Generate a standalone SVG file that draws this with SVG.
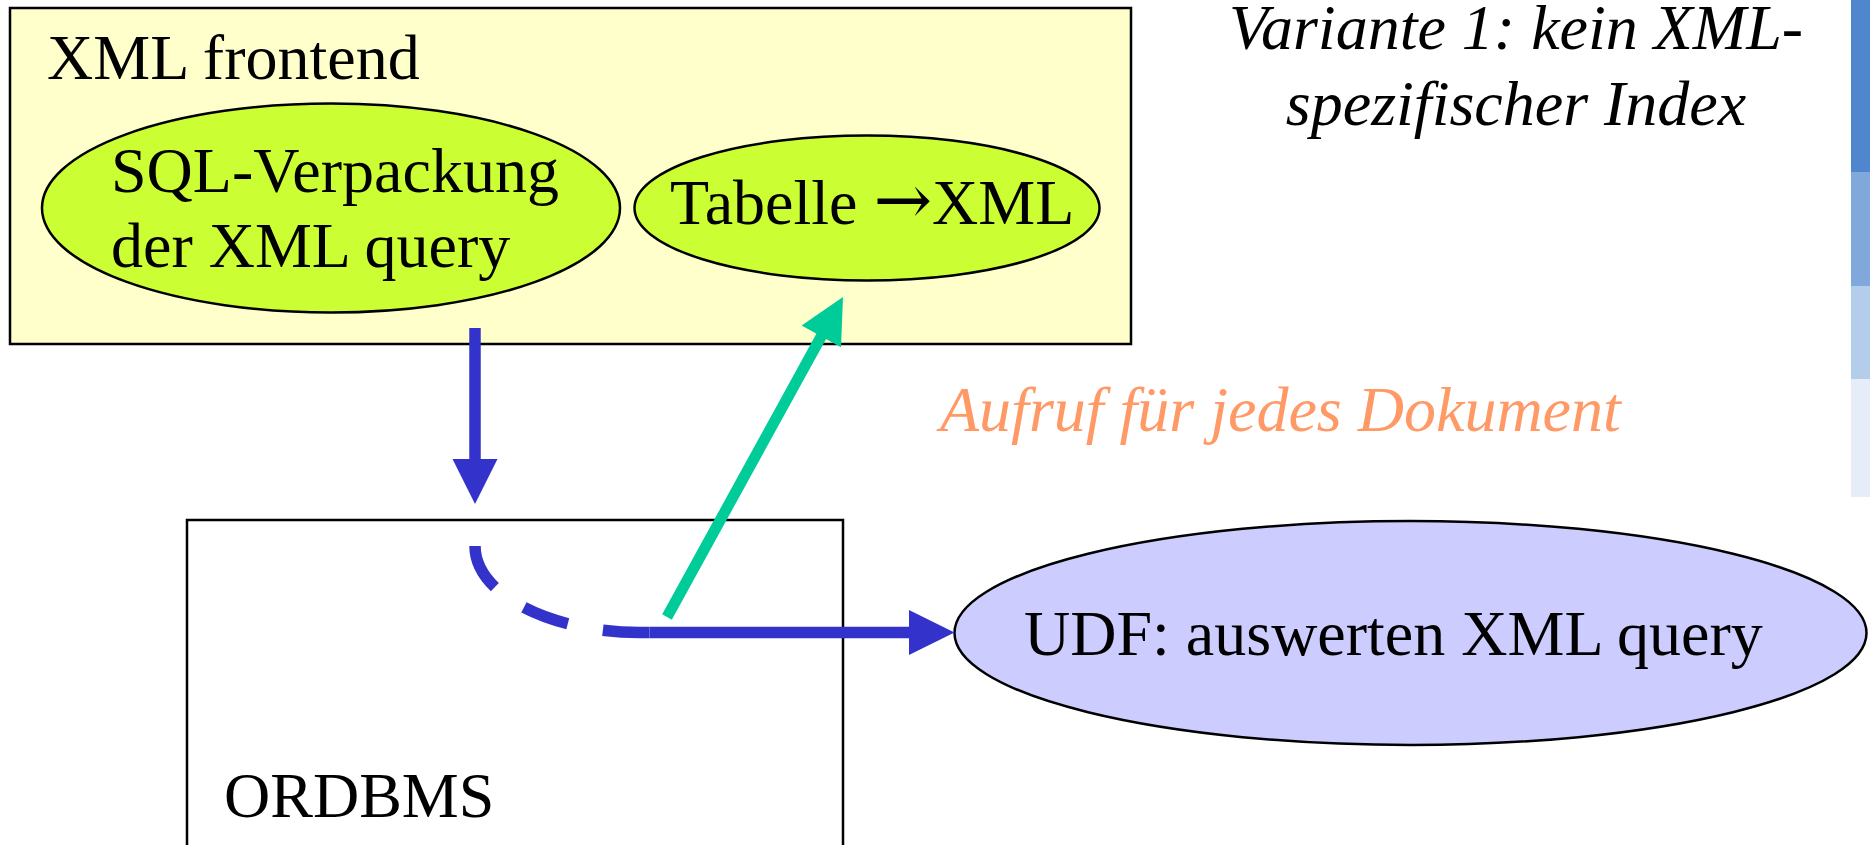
<svg xmlns="http://www.w3.org/2000/svg" width="1870" height="845" viewBox="0 0 1870 845">
  <style>
    .t { font-family: "Liberation Serif", "Times New Roman", serif; font-size: 64px; fill: #000; }
    .it { font-style: italic; }
    .arrow-glyph { font-family: "DejaVu Serif", serif; font-size: 70px; }
    .box { stroke: #000; stroke-width: 2.5; }
    .ell { stroke: #000; stroke-width: 2.5; }
    .blue { fill: none; stroke: #3333CC; stroke-width: 11.5; stroke-linecap: butt; }
    .green { fill: none; stroke: #00CC99; stroke-width: 11; stroke-linecap: butt; }
  </style>

  <!-- side colour bar -->
  <g id="sidebar">
    <rect x="1851" y="0" width="19" height="172" fill="#4F86CD"/>
    <rect x="1851" y="172" width="19" height="114" fill="#80A8DB"/>
    <rect x="1851" y="286" width="19" height="93" fill="#B3CDEA"/>
    <rect x="1851" y="379" width="19" height="118" fill="#E6EDF8"/>
  </g>

  <!-- title -->
  <g id="title">
    <text class="t it" x="1516" y="49" text-anchor="middle">Variante 1: kein XML-</text>
    <text class="t it" x="1516" y="125" text-anchor="middle">spezifischer Index</text>
  </g>

  <!-- XML frontend container -->
  <g id="xml-frontend">
    <rect class="box" x="10" y="8" width="1121" height="336" fill="#FFFFCC"/>
    <text class="t" x="47" y="79">XML frontend</text>
  </g>

  <g id="sql-verpackung">
    <ellipse class="ell" cx="331" cy="208" rx="289" ry="104.5" fill="#CCFF33"/>
    <text class="t" x="111" y="192">SQL-Verpackung</text>
    <text class="t" x="111" y="267">der XML query</text>
  </g>

  <g id="tabelle-xml">
    <ellipse class="ell" cx="867" cy="208" rx="232.5" ry="72.5" fill="#CCFF33"/>
    <text class="t" x="670" y="224">Tabelle <tspan class="arrow-glyph">→</tspan>XML</text>
  </g>

  <!-- ORDBMS box (runs past the lower edge) -->
  <g id="ordbms">
    <rect class="box" x="187" y="520" width="656" height="340" fill="#FFFFFF"/>
    <text class="t" x="224" y="817">ORDBMS</text>
  </g>

  <g id="udf">
    <ellipse class="ell" cx="1410.5" cy="633" rx="456" ry="112" fill="#CCCCFF"/>
    <text class="t" x="1024" y="655">UDF: auswerten XML query</text>
  </g>

  <g id="label-aufruf">
    <text class="t it" x="940" y="431" style="fill:#FF9966">Aufruf für jedes Dokument</text>
  </g>

  <!-- connectors -->
  <g id="connectors">
    <!-- query handed down to the ORDBMS -->
    <line class="blue" x1="475" y1="328" x2="475" y2="460"/>
    <polygon points="452.5,459 497.5,459 475,504" fill="#3333CC"/>

    <!-- internal dashed path inside the ORDBMS -->
    <path class="blue" d="M475,546 A165,86.5 0 0 0 640,632.5 L650,632.5" stroke-dasharray="47 35.5"/>

    <!-- call of the UDF -->
    <line class="blue" x1="650" y1="632.5" x2="910" y2="632.5"/>
    <polygon points="909,610 909,655 954.5,632.5" fill="#3333CC"/>

    <!-- result converted back to XML -->
    <line class="green" x1="667" y1="617" x2="822" y2="335"/>
    <polygon points="843,297 801.6,325.6 841,347.3" fill="#00CC99"/>
  </g>
</svg>
